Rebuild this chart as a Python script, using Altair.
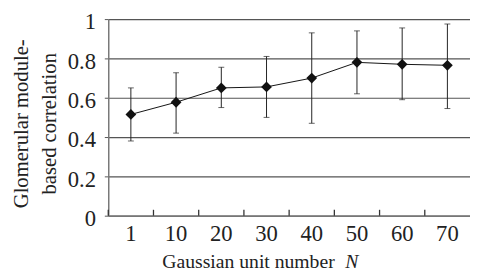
import altair as alt
import pandas as pd

cats = ["1", "10", "20", "30", "40", "50", "60", "70"]
means = [0.515, 0.577, 0.65, 0.655, 0.70, 0.78, 0.77, 0.765]
upper = [0.65, 0.727, 0.755, 0.81, 0.93, 0.94, 0.955, 0.975]
lower = [0.38, 0.42, 0.55, 0.50, 0.47, 0.62, 0.59, 0.545]
y_ticks = [0, 0.2, 0.4, 0.6, 0.8, 1]
x_title = "Gaussian unit number"
x_title_var = "N"
y_title = ["Glomerular module-", "based correlation"]

FONT = "Liberation Serif"

df = pd.DataFrame({"N": cats, "mean": means, "hi": upper, "lo": lower})

xscale = alt.Scale(type="band", domain=cats, paddingInner=0, paddingOuter=0)
xaxis = alt.Axis(title=None, grid=False, ticks=False, domain=True,
                 domainColor="#777", domainWidth=1.5,
                 labelFont=FONT, labelFontSize=23, labelColor="#222",
                 labelAngle=0, labelPadding=7, labelOverlap=False)
yscale = alt.Scale(domain=[0, 1], nice=False)
yaxis = alt.Axis(title=y_title, values=y_ticks, format="~g", tickCount=6,
                 grid=True, gridColor="#555", gridWidth=1.2,
                 domain=True, domainColor="#777", domainWidth=1.5,
                 ticks=True, tickSize=4, tickColor="#555",
                 labelFont=FONT, labelFontSize=23, labelColor="#222",
                 labelPadding=9, labelOverlap=False, labelFlush=False,
                 labelBound=False, labelOffset=3,
                 titleFont=FONT, titleFontSize=21, titleFontWeight="normal",
                 titleColor="#222", titlePadding=8, titleLineHeight=28,
                 titleY=106)

X = alt.X("N:O", sort=cats, scale=xscale, axis=xaxis)

def Yf(field):
    return alt.Y(field, type="quantitative", scale=yscale, axis=yaxis)

base = alt.Chart(df)

err = base.mark_rule(color="#222", strokeWidth=1).encode(x=X, y=Yf("lo"), y2="hi:Q")
cap_hi = base.mark_tick(color="#222", size=6, thickness=1).encode(x=X, y=Yf("hi"))
cap_lo = base.mark_tick(color="#222", size=6, thickness=1).encode(x=X, y=Yf("lo"))
line = base.mark_line(color="#111", strokeWidth=1).encode(x=X, y=Yf("mean"))
pts = base.mark_point(shape="diamond", filled=True, color="#111", size=120, opacity=1).encode(x=X, y=Yf("mean"))

xticks = alt.Chart(pd.DataFrame({"N": cats})).mark_rule(color="#333", strokeWidth=1.3).encode(
    x=alt.X("N:O", sort=cats, scale=xscale, axis=xaxis, bandPosition=0),
    y=alt.datum(0), y2=alt.datum(0.03))

t1 = alt.Chart(pd.DataFrame({"t": [x_title]})).mark_text(
    font=FONT, fontSize=20, color="#222", align="left", baseline="alphabetic").encode(
    text="t:N", x=alt.value(55), y=alt.value(253))
t2 = alt.Chart(pd.DataFrame({"t": [x_title_var]})).mark_text(
    font=FONT, fontSize=20, fontStyle="italic", color="#222", align="left", baseline="alphabetic").encode(
    text="t:N", x=alt.value(241), y=alt.value(253))

chart = alt.layer(err, cap_hi, cap_lo, line, pts, xticks, t1, t2).properties(
    width=368, height=200,
    autosize=alt.AutoSizeParams(type="none"),
    padding={"left": 102, "top": 9, "right": 0, "bottom": 55},
    background="white",
).configure_view(stroke=None)

chart.save("out.html", embed_options={"renderer": "svg", "actions": False})
